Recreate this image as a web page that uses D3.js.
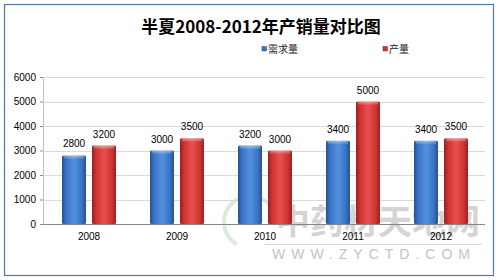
<!DOCTYPE html>
<html>
<head>
<meta charset="utf-8">
<script src="https://cdn.jsdelivr.net/npm/d3@7"></script>
<style>
  body { margin: 0; background: #fff; }
  svg { display: block; }
</style>
</head>
<body>
<svg id="chart" width="498" height="280"></svg>
<script>
const years = ["2008", "2009", "2010", "2011", "2012"]
const seriesNames = ["需求量", "产量"]
const demand = [2800, 3000, 3200, 3400, 3400]
const output = [3200, 3500, 3000, 5000, 3500]
const yTicks = [0, 1000, 2000, 3000, 4000, 5000, 6000]

const font = "'Liberation Sans', Arial, 'Noto Sans CJK SC', sans-serif"
const cjk = "'Noto Sans CJK SC', sans-serif"

const svg = d3.select("#chart")

// gradients for the bevelled bars
const defs = svg.append("defs")
const palettes = [
  { id: "g0", dark: "#23528f", mid: "#3a74c4", light: "#5393e0" },
  { id: "g1", dark: "#9c1f1f", mid: "#cf3434", light: "#e8504e" }
]
palettes.forEach(p => {
  const g = defs.append("linearGradient").attr("id", p.id)
    .attr("x1", 0).attr("x2", 1).attr("y1", 0).attr("y2", 0)
  g.append("stop").attr("offset", "0%").attr("stop-color", p.dark)
  g.append("stop").attr("offset", "18%").attr("stop-color", p.mid)
  g.append("stop").attr("offset", "50%").attr("stop-color", p.light)
  g.append("stop").attr("offset", "82%").attr("stop-color", p.mid)
  g.append("stop").attr("offset", "100%").attr("stop-color", p.dark)
})
const topGrad = defs.append("linearGradient").attr("id", "gt")
  .attr("x1", 0).attr("x2", 0).attr("y1", 0).attr("y2", 1)
topGrad.append("stop").attr("offset", "0%").attr("stop-color", "#fff").attr("stop-opacity", 0.45)
topGrad.append("stop").attr("offset", "100%").attr("stop-color", "#fff").attr("stop-opacity", 0)

// frame
svg.append("rect")
  .attr("x", 4.5).attr("y", 4.5).attr("width", 489).attr("height", 271)
  .attr("fill", "#fff").attr("stroke", "#4f7aa8").attr("stroke-width", 1.2)

const x = d3.scaleBand().domain(years).range([45, 485])
const xi = d3.scaleBand().domain(seriesNames).range([0, x.bandwidth()])
  .paddingInner(0.2).paddingOuter(0.567)
const y = d3.scaleLinear().domain([0, 6000]).range([224, 77])

// watermark (behind the bars)
const wm = svg.append("g")
wm.append("path")
  .attr("d", d3.arc()({ innerRadius: 24, outerRadius: 28, startAngle: -2.6, endAngle: 1.2 }))
  .attr("transform", "translate(250,222)")
  .attr("fill", "#dcebdc")
wm.append("text")
  .attr("x", 378).attr("y", 234)
  .attr("text-anchor", "middle")
  .attr("font-family", cjk).attr("font-size", 34).attr("font-weight", "bold")
  .attr("fill", "#d4d4d4")
  .text("中药材天地网")
wm.append("line")
  .attr("x1", 265).attr("x2", 482).attr("y1", 244.5).attr("y2", 244.5)
  .attr("stroke", "#d8d8d8")
wm.append("text")
  .attr("x", 374).attr("y", 259)
  .attr("text-anchor", "middle")
  .attr("font-family", font).attr("font-size", 14)
  .attr("letter-spacing", 6)
  .attr("fill", "#c4c4c4")
  .text("WWW.ZYCTD.COM")

// grid + y axis
const yAxis = svg.append("g")
  .attr("transform", "translate(43,0)")
  .call(d3.axisLeft(y).tickValues(yTicks).tickFormat(d3.format("d")).tickSize(3).tickPadding(4))
yAxis.select(".domain").attr("stroke", "#bfbfbf")
yAxis.selectAll(".tick line").attr("stroke", "#8a8a8a")
yAxis.selectAll(".tick text")
  .attr("font-family", font).attr("font-size", 10).attr("fill", "#000")

svg.append("g").selectAll("line")
  .data(yTicks.slice(1))
  .join("line")
  .attr("x1", 43).attr("x2", 485)
  .attr("y1", d => Math.round(y(d)) + 0.5).attr("y2", d => Math.round(y(d)) + 0.5)
  .attr("stroke", "#d9d9d9")

// bars
const rows = years.map((yr, i) => ({ year: yr, vals: [demand[i], output[i]] }))
const groups = svg.append("g").selectAll("g")
  .data(rows)
  .join("g")
  .attr("transform", d => `translate(${x(d.year)},0)`)

const bars = groups.selectAll("g")
  .data(d => d.vals.map((v, k) => ({ name: seriesNames[k], k, v })))
  .join("g")

bars.append("rect")
  .attr("x", d => xi(d.name))
  .attr("y", d => y(d.v))
  .attr("width", xi.bandwidth())
  .attr("height", d => y(0) - y(d.v))
  .attr("rx", 1.5)
  .attr("fill", d => `url(#g${d.k})`)

bars.append("rect")
  .attr("x", d => xi(d.name) + 1.5)
  .attr("y", d => y(d.v))
  .attr("width", xi.bandwidth() - 3)
  .attr("height", 4)
  .attr("rx", 1.5)
  .attr("fill", "url(#gt)")

bars.append("text")
  .attr("x", d => xi(d.name) + xi.bandwidth() / 2)
  .attr("y", d => y(d.v) - 8)
  .attr("text-anchor", "middle")
  .attr("font-family", font).attr("font-size", 10)
  .attr("fill", "#000")
  .text(d => d.v)

// x axis
const xAxis = svg.append("g")
  .attr("transform", "translate(0,224)")
  .call(d3.axisBottom(x).tickSize(0).tickPadding(9))
xAxis.select(".domain").attr("stroke", "#868686").attr("d", "M42,0.5H485")
xAxis.selectAll(".tick text")
  .attr("font-family", font).attr("font-size", 10).attr("fill", "#000")

// title
svg.append("text")
  .attr("x", 261).attr("y", 33)
  .attr("text-anchor", "middle")
  .attr("font-family", cjk).attr("font-weight", "bold").attr("font-size", 17)
  .attr("fill", "#000")
  .text("半夏2008-2012年产销量对比图")

// legend
const legendX = [262, 383]
const legend = svg.append("g").selectAll("g")
  .data(seriesNames)
  .join("g")
  .attr("transform", (d, i) => `translate(${legendX[i]},46)`)
legend.append("rect")
  .attr("width", 4.5).attr("height", 4.5).attr("y", 0.5)
  .attr("fill", (d, i) => palettes[i].mid)
  .attr("stroke", (d, i) => palettes[i].dark).attr("stroke-width", 0.5)
legend.append("text")
  .attr("x", 6).attr("y", 6.5)
  .attr("font-family", cjk).attr("font-size", 10)
  .attr("fill", "#222")
  .text(d => d)
</script>
</body>
</html>
